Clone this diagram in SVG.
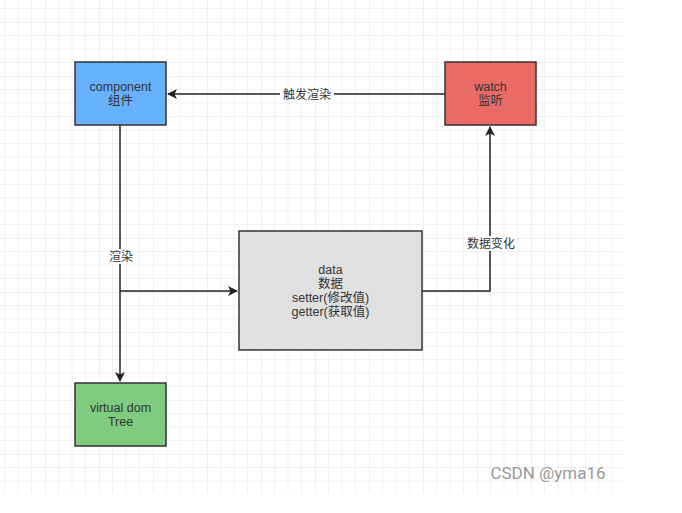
<svg xmlns="http://www.w3.org/2000/svg" width="682" height="513" viewBox="0 0 682 513">
<defs>
<pattern id="grid" x="-9" y="-32" width="54" height="54" patternUnits="userSpaceOnUse">
<path d="M13.5 0V54M27 0V54M40.5 0V54M0 13.5H54M0 27H54M0 40.5H54" stroke="#f1f1f1" stroke-width="1" fill="none"/>
<path d="M0 0V54M0 0H54" stroke="#e2e2e2" stroke-width="1" fill="none"/>
</pattern>
<marker id="arr" viewBox="0 0 10 10" refX="9" refY="5" markerWidth="10" markerHeight="10" markerUnits="userSpaceOnUse" orient="auto">
<path d="M0 0L10 5L0 10L2.5 5Z" fill="#222"/>
</marker>
</defs>
<style>
.box{stroke:#333;stroke-width:1.5}
.t{font-family:"Liberation Sans","Noto Sans CJK SC",sans-serif;font-size:12.5px;fill:#333;text-anchor:middle}
.c{stroke:#222;stroke-width:1.5;fill:none}
.lbl{font-family:"Liberation Sans","Noto Sans CJK SC",sans-serif;font-size:12px;fill:#333;text-anchor:middle}
</style>
<rect width="682" height="513" fill="#fff"/>
<rect x="0" y="0" width="622" height="493" fill="url(#grid)"/>
<g id="connectors">
<path class="c" d="M445 94H168" marker-end="url(#arr)"/>
<rect x="280" y="87" width="54" height="15" fill="#fff"/>
<text class="lbl" x="307" y="99">触发渲染</text>
<path class="c" d="M120 125V381" marker-end="url(#arr)"/>
<rect x="106" y="249" width="30" height="15" fill="#fff"/>
<text class="lbl" x="121" y="261">渲染</text>
<path class="c" d="M120 291H237" marker-end="url(#arr)"/>
<path class="c" d="M422 291H490V127" marker-end="url(#arr)"/>
<rect x="465" y="236" width="52" height="15" fill="#fff"/>
<text class="lbl" x="491" y="248">数据变化</text>
</g>
<g id="component">
<rect class="box" x="75" y="62" width="91" height="63" fill="#66b2ff"/>
<text class="t" x="120.5" y="91">component</text>
<text class="t" x="120.5" y="105">组件</text>
</g>
<g id="watch">
<rect class="box" x="445" y="62" width="91" height="63" fill="#ea6b66"/>
<text class="t" x="490.5" y="91">watch</text>
<text class="t" x="490.5" y="105">监听</text>
</g>
<g id="data">
<rect class="box" x="239" y="231" width="183" height="119" fill="#e0e0e0"/>
<text class="t" x="330.5" y="274">data</text>
<text class="t" x="330.5" y="288">数据</text>
<text class="t" x="330.5" y="302">setter(修改值)</text>
<text class="t" x="330.5" y="316">getter(获取值)</text>
</g>
<g id="vdom">
<rect class="box" x="75" y="383" width="91" height="63" fill="#7fcb7f"/>
<text class="t" x="120.5" y="412">virtual dom</text>
<text class="t" x="120.5" y="426">Tree</text>
</g>
<text x="548" y="479" font-family="Roboto,'Liberation Sans',sans-serif" font-size="17" fill="#999" text-anchor="middle">CSDN @yma16</text>
</svg>
